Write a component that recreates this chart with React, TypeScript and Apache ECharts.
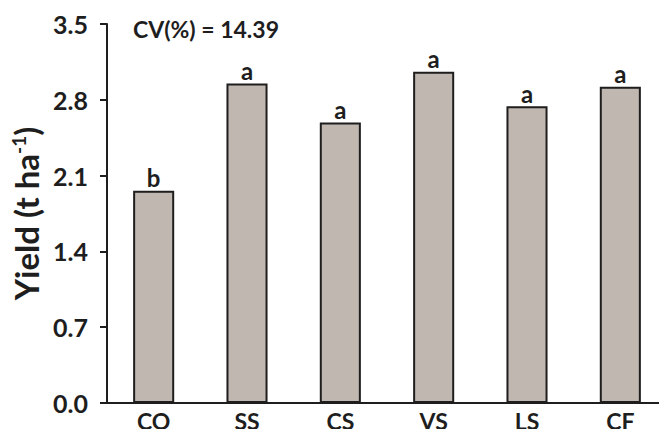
import React, { useEffect, useRef } from "react";
import * as echarts from "echarts";

const categories = ["CO", "SS", "CS", "VS", "LS", "CF"];
const yieldValues = [1.96, 2.95, 2.59, 3.06, 2.74, 2.92];
const letters = ["b", "a", "a", "a", "a", "a"];
const yTicks = [0, 0.7, 1.4, 2.1, 2.8, 3.5];
const cvText = "CV(%) = 14.39";

const FONT = "Lato, 'Open Sans', sans-serif";
const INK = "#1e1e1e";

export default function App() {
  const ref = useRef<HTMLDivElement>(null);
  useEffect(() => {
    if (!ref.current) return;
    const chart = echarts.init(ref.current, undefined, { renderer: "svg" });
    chart.setOption({
      animation: false,
      backgroundColor: "#ffffff",
      grid: { left: 107, top: 24, bottom: 34, width: 571 },
      graphic: [
        {
          type: "text",
          left: 133,
          top: 17,
          style: {
            text: cvText,
            font: `bold 23px ${FONT}`,
            fill: INK,
          },
        },
      ],
      xAxis: {
        type: "category",
        data: categories,
        axisLine: { show: true, lineStyle: { color: INK, width: 2 } },
        axisTick: { show: false },
        axisLabel: {
          color: INK,
          fontFamily: FONT,
          fontWeight: "bold",
          fontSize: 23,
          margin: 6,
          lineHeight: 23,
        },
      },
      yAxis: {
        type: "value",
        min: 0,
        max: 3.5,
        interval: 0.7,
        name: "Yield (t ha{sup|-1})",
        nameLocation: "middle",
        nameGap: 60,
        nameRotate: 90,
        nameTextStyle: {
          color: INK,
          fontFamily: FONT,
          fontWeight: "bold",
          fontSize: 33,
          rich: {
            sup: {
              fontSize: 19,
              fontWeight: "bold",
              fontFamily: FONT,
              color: INK,
              verticalAlign: "top",
              padding: [0, 0, 15, 0],
            },
          },
        },
        splitLine: { show: false },
        axisLine: { show: true, lineStyle: { color: INK, width: 2 } },
        axisTick: { show: true, inside: false, length: 7, lineStyle: { color: INK, width: 2 } },
        axisLabel: {
          color: INK,
          fontFamily: FONT,
          fontWeight: "bold",
          fontSize: 25,
          margin: 19,
          formatter: (v: number) => {
            const t = yTicks.find((x) => Math.abs(x - v) < 1e-6);
            return (t !== undefined ? t : v).toFixed(1);
          },
        },
      },
      series: [
        {
          type: "bar",
          data: yieldValues,
          barWidth: "44%",
          itemStyle: { color: "#bfb7b0", borderColor: INK, borderWidth: 2 },
          label: {
            show: true,
            position: "top",
            distance: 1,
            color: INK,
            fontFamily: FONT,
            fontWeight: "bold",
            fontSize: 24,
            formatter: (p: any) => letters[p.dataIndex],
          },
        },
      ],
    });
    return () => chart.dispose();
  }, []);
  return <div ref={ref} style={{ width: 667, height: 437, margin: -8 }} />;
}
